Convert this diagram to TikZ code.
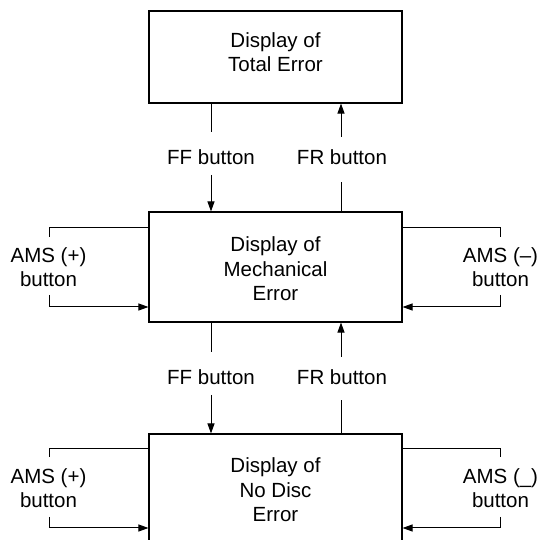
\documentclass[tikz,border=0pt]{standalone}
\usepackage{fontspec}
\setmainfont{Liberation Sans}
\usetikzlibrary{arrows.meta}
\begin{document}
\begin{tikzpicture}[x=1pt,y=-1pt,
  every node/.style={font=\fontsize{20.5}{24.5}\selectfont, inner sep=0pt, align=center},
  box/.style={draw, line width=1.1pt},
  conn/.style={line width=1pt},
  arr/.style={conn, -{Triangle[length=10pt,width=7pt]}}]
\useasboundingbox (0,0) rectangle (542,540);
\clip (0,0) rectangle (542,540);
% boxes
\node[box, minimum width=253pt, minimum height=92pt] (top) at (275.5,57) {};
\node (toptext) at (275.5,52) {Display of\\Total Error};
\node[box, minimum width=253pt, minimum height=110pt] (mid) at (275.5,267) {};
\node (midtext) at (275.5,269) {Display of\\Mechanical\\Error};
\node[box, minimum width=253pt, minimum height=140pt] (bot) at (275.5,504) {};
\node (bottext) at (275.5,490) {Display of\\No Disc\\Error};
% FF / FR labels
\node (ff1) at (211,157) {FF button};
\node (fr1) at (342,157) {FR button};
\node (ff2) at (211,377) {FF button};
\node (fr2) at (342,377) {FR button};
% side labels
\node (amsL1) at (48.5,267) {AMS (+)\\button};
\node (amsR1) at (500.5,267) {AMS (--)\\button};
\node (amsL2) at (48.5,488) {AMS (+)\\button};
\node (amsR2) at (500.5,488) {AMS (\_)\\button};
% coordinates for free ends
\coordinate (ff1a) at (211,132); \coordinate (ff1b) at (211,175);
\coordinate (fr1a) at (341,137); \coordinate (fr1b) at (341,182);
\coordinate (ff2a) at (211,352); \coordinate (ff2b) at (211,395);
\coordinate (fr2a) at (341,357); \coordinate (fr2b) at (341,400);
% FF/FR connectors
\draw[conn] (top.south -| ff1a) -- (ff1a);
\draw[arr] (ff1b) -- (mid.north -| ff1b);
\draw[conn] (mid.north -| fr1b) -- (fr1b);
\draw[arr] (fr1a) -- (top.south -| fr1a);
\draw[conn] (mid.south -| ff2a) -- (ff2a);
\draw[arr] (ff2b) -- (bot.north -| ff2b);
\draw[conn] (bot.north -| fr2b) -- (fr2b);
\draw[arr] (fr2a) -- (mid.south -| fr2a);
% AMS connectors (middle)
\coordinate (l1a) at (49,237); \coordinate (l1t) at (49,228);
\coordinate (l1b) at (49,295); \coordinate (l1u) at (49,307);
\draw[conn] (l1a) -- (l1t) -- (mid.west |- l1t);
\draw[arr] (l1b) -- (l1u) -- (mid.west |- l1u);
\coordinate (r1a) at (500,237); \coordinate (r1t) at (500,228);
\coordinate (r1b) at (500,295); \coordinate (r1u) at (500,307);
\draw[conn] (r1a) -- (r1t) -- (mid.east |- r1t);
\draw[arr] (r1b) -- (r1u) -- (mid.east |- r1u);
% AMS connectors (bottom)
\coordinate (l2a) at (49,457); \coordinate (l2t) at (49,449);
\coordinate (l2b) at (49,517); \coordinate (l2u) at (49,528);
\draw[conn] (l2a) -- (l2t) -- (bot.west |- l2t);
\draw[arr] (l2b) -- (l2u) -- (bot.west |- l2u);
\coordinate (r2a) at (500,457); \coordinate (r2t) at (500,449);
\coordinate (r2b) at (500,517); \coordinate (r2u) at (500,528);
\draw[conn] (r2a) -- (r2t) -- (bot.east |- r2t);
\draw[arr] (r2b) -- (r2u) -- (bot.east |- r2u);
\end{tikzpicture}
\end{document}
